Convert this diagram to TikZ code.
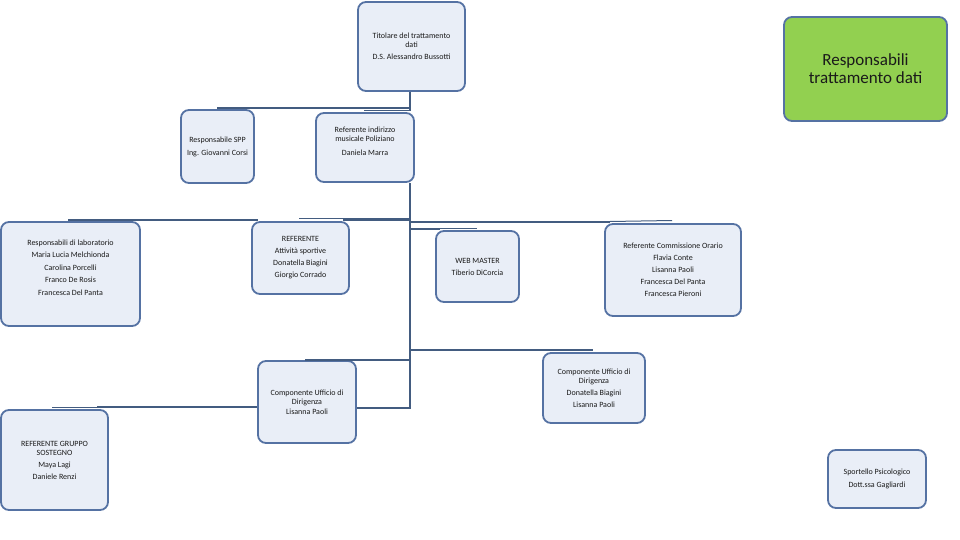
\documentclass[tikz,border=0pt]{standalone}
\usepackage{fontspec}
\setmainfont{Carlito}
\definecolor{boxfill}{HTML}{E9EEF7}
\definecolor{boxline}{HTML}{5572A3}
\definecolor{connline}{HTML}{435C80}
\definecolor{greenfill}{HTML}{92D050}
\definecolor{txt}{HTML}{1A1A1A}
\begin{document}
\begin{tikzpicture}[x=1pt,y=-1pt,
  orgbox/.style={draw=boxline,line width=1.8pt,fill=boxfill,rounded corners=8pt,
    inner sep=0pt,align=center,text=txt,font=\fontsize{8}{9}\selectfont},
  greenbox/.style={orgbox,fill=greenfill,text=txt,font=\fontsize{17}{18}\selectfont},
  conn/.style={draw=connline,line width=2pt},
  thinconn/.style={draw=connline,line width=1pt}]
\useasboundingbox (0,0) rectangle (960,540);

% boxes
\node[orgbox,minimum width=107pt,minimum height=89pt] (tit) at (411.5,46.5)
  {Titolare del trattamento\\ dati\\[3.5pt] D.S. Alessandro Bussotti};
\node[greenbox,minimum width=163pt,minimum height=104pt] (resp) at (865.5,69)
  {Responsabili\\ trattamento dati};
\node[orgbox,minimum width=73pt,minimum height=73pt] (spp) at (217.5,146.5)
  {Responsabile SPP\\[4pt] Ing. Giovanni Corsi};
\node[orgbox,minimum width=98pt,minimum height=69pt] (ind) at (365,147.5)
  {Referente indirizzo\\ musicale Poliziano\\[5pt] Daniela Marra\\[3pt]};
\node[orgbox,minimum width=139pt,minimum height=104pt] (lab) at (70.5,274)
  {Responsabili di laboratorio\\[3.5pt] Maria Lucia Melchionda\\[3.5pt] Carolina Porcelli\\[3.5pt]
   Franco De Rosis\\[3.5pt] Francesca Del Panta\\[4pt]};
\node[orgbox,minimum width=97pt,minimum height=72pt] (att) at (300.5,258)
  {REFERENTE\\[3pt] Attività sportive\\[3pt] Donatella Biagini\\[3pt] Giorgio Corrado};
\node[orgbox,minimum width=83pt,minimum height=71pt] (web) at (477.5,266.5)
  {WEB MASTER\\[3pt] Tiberio DiCorcia};
\node[orgbox,minimum width=136pt,minimum height=92pt] (orar) at (673,270)
  {Referente Commissione Orario\\[3pt] Flavia Conte\\[3pt] Lisanna Paoli\\[3pt]
   Francesca Del Panta\\[3pt] Francesca Pieroni};
\node[orgbox,minimum width=98pt,minimum height=82pt] (compL) at (307,402)
  {Componente Ufficio di\\ Dirigenza\\[1pt] Lisanna Paoli};
\node[orgbox,minimum width=102pt,minimum height=70pt] (compR) at (594,388)
  {Componente Ufficio di\\ Dirigenza\\[3pt] Donatella Biagini\\[3pt] Lisanna Paoli};
\node[orgbox,minimum width=107pt,minimum height=100pt] (sost) at (54.5,460)
  {REFERENTE GRUPPO\\ SOSTEGNO\\[3pt] Maya Lagi\\[3pt] Daniele Renzi};
\node[orgbox,minimum width=98pt,minimum height=58pt] (sport) at (877,479)
  {Sportello Psicologico\\[4pt] Dott.ssa Gagliardi};

% named free ends
\coordinate (tx) at (409.5,0);
\coordinate (l1) at (217,108);
\coordinate (l1b) at (364,111);
\coordinate (l2a) at (68,220);
\coordinate (l2b) at (258,220);
\coordinate (l3a) at (299,218);
\coordinate (l3b) at (343,219.5);
\coordinate (l4a) at (610,221.5);
\coordinate (l4b) at (672,220.5);
\coordinate (l5a) at (440,228.5);
\coordinate (l5b) at (477,228.5);
\coordinate (l6) at (593,350);
\coordinate (l7) at (305,359.5);
\coordinate (bot) at (409.5,408);
\coordinate (l8a) at (52,407);
\coordinate (l8b) at (97,407);

% connectors
\draw[conn] (tit.south -| tx) |- (l1);
\draw[conn] (tit.south -| tx) -- (l1b -| tx);
\draw[thinconn] (l1b) -- (l1b -| tx);
\draw[conn] (ind.south -| tx) -- (bot) -- (compL.east |- bot);
\draw[conn] (l2a) -- (l2b);
\draw[thinconn] (l3a) -- (l3a -| tx);
\draw[conn] (l3b) -- (l3b -| tx);
\draw[conn] (l4a -| tx) -- (l4a);
\draw[thinconn] (l4a) -- (l4b);
\draw[conn] (l5a -| tx) -- (l5a);
\draw[thinconn] (l5a) -- (l5b);
\draw[conn] (l6 -| tx) -- (l6);
\draw[conn] (l7) -- (l7 -| tx);
\draw[thinconn] (l8a) -- (l8b);
\draw[conn] (l8b) -- (compL.west |- l8b);
\end{tikzpicture}
\end{document}
